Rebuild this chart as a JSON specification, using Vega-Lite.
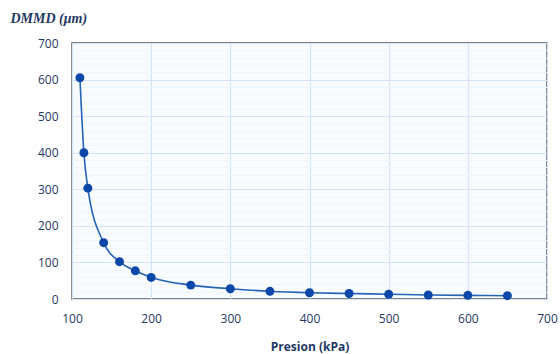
{
  "$schema": "https://vega.github.io/schema/vega-lite/v6.json",
  "width": 475,
  "height": 256,
  "autosize": "none",
  "padding": {"left": 72, "top": 43, "right": 13, "bottom": 55},
  "background": "white",
  "config": {
    "view": {"stroke": "#5a5a5a", "strokeWidth": 1.5, "fill": "#f9fcff"},
    "font": "Open Sans"
  },
  "data": {
    "values": [
      {"p": 110, "d": 605},
      {"p": 115, "d": 400},
      {"p": 120, "d": 303},
      {"p": 140, "d": 154},
      {"p": 160, "d": 102},
      {"p": 180, "d": 77},
      {"p": 200, "d": 59},
      {"p": 250, "d": 38},
      {"p": 300, "d": 28},
      {"p": 350, "d": 21},
      {"p": 400, "d": 17},
      {"p": 450, "d": 15},
      {"p": 500, "d": 13},
      {"p": 550, "d": 11},
      {"p": 600, "d": 10},
      {"p": 650, "d": 9}
    ]
  },
  "encoding": {
    "x": {
      "field": "p", "type": "quantitative",
      "scale": {"domain": [100, 700], "nice": false},
      "axis": {
        "title": "Presion (kPa)",
        "values": [100, 200, 300, 400, 500, 600, 700],
        "domain": false, "ticks": false, "labelFlush": false,
        "gridColor": "#d3e4f8", "gridWidth": 1.2,
        "labelFont": "Open Sans", "labelFontSize": 12, "labelColor": "#1f3864",
        "labelPadding": 14,
        "titleFont": "Open Sans", "titleFontSize": 12, "titleFontWeight": "bold", "titleColor": "#1f3864",
        "titleBaseline": "middle", "titleY": 47
      }
    },
    "y": {
      "field": "d", "type": "quantitative",
      "scale": {"domain": [0, 700], "nice": false},
      "axis": {
        "title": "DMMD (μm)",
        "values": [0,20,40,60,80,100,120,140,160,180,200,220,240,260,280,300,320,340,360,380,400,420,440,460,480,500,520,540,560,580,600,620,640,660,680,700],
        "labelExpr": "datum.value % 100 === 0 ? datum.label : ''",
        "gridColor": {"condition": {"test": "datum.value % 100 === 0", "value": "#d3e4f8"}, "value": "#eef5fd"},
        "gridWidth": 1.2,
        "domain": false, "ticks": false, "labelFlush": false, "labelOverlap": false,
        "labelFont": "Open Sans", "labelFontSize": 12, "labelColor": "#1f3864",
        "labelPadding": 14,
        "titleFont": "Liberation Serif", "titleFontSize": 14, "titleFontWeight": "bold", "titleFontStyle": "italic", "titleColor": "#1f3864",
        "titleAngle": 0, "titleAlign": "left", "titleBaseline": "middle",
        "titleX": -62, "titleY": -25
      }
    }
  },
  "layer": [
    {"mark": {"type": "line", "interpolate": "monotone", "color": "#2563b8", "strokeWidth": 1.6}},
    {"mark": {"type": "point", "filled": true, "size": 80, "color": "#0b47a8", "opacity": 1}}
  ]
}
